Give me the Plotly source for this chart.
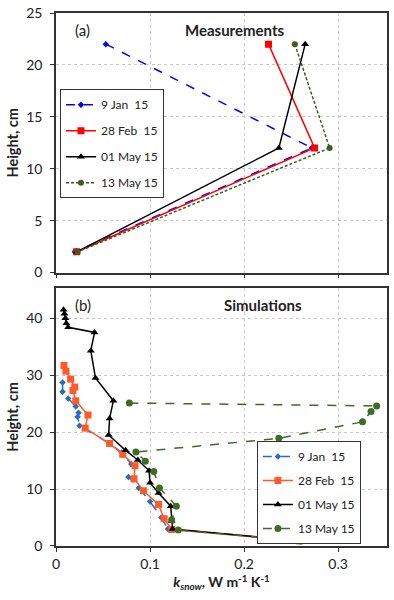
import plotly.graph_objects as go
from plotly.subplots import make_subplots

labels = ['9 Jan  15', '28 Feb  15', '01 May 15', '13 May 15']

# (a) measurements
meas_h = [22, 12, 2]
meas_jan = [0.053, 0.272, 0.020]
meas_feb = [0.226, 0.275, 0.022]
meas_may1 = [0.265, 0.237, 0.022]
meas_may13 = [0.254, 0.291, 0.023]

# (b) simulations
sim_jan_h = [28.7, 27.1, 25.9, 24.5, 23.4, 22.7, 21.1, 18.0, 16.4, 14.4, 12.1, 10.2, 7.8, 5.0, 3.0, 0.9]
sim_jan_k = [0.007, 0.007, 0.013, 0.021, 0.024, 0.023, 0.025, 0.057, 0.070, 0.080, 0.077, 0.088, 0.100, 0.112, 0.119, 0.259]

sim_feb_h = [31.7, 30.7, 29.3, 27.9, 27.3, 25.5, 23.0, 20.7, 18.0, 16.1, 14.1, 11.8, 9.7, 7.3, 4.8, 2.9, 0.9]
sim_feb_k = [0.0085, 0.0106, 0.0155, 0.020, 0.018, 0.021, 0.034, 0.031, 0.057, 0.071, 0.084, 0.083, 0.093, 0.109, 0.115, 0.123, 0.259]

sim_may1_h = [41.5, 40.8, 40.0, 39.1, 38.4, 37.5, 34.3, 29.5, 25.5, 22.4, 19.5, 16.8, 15.1, 13.2, 11.1, 9.3, 7.0, 4.4, 3.0, 0.9]
sim_may1_k = [0.008, 0.009, 0.010, 0.011, 0.013, 0.041, 0.037, 0.042, 0.061, 0.057, 0.056, 0.074, 0.087, 0.099, 0.100, 0.109, 0.122, 0.123, 0.124, 0.260]

sim_may13_h = [25.1, 24.6, 23.6, 21.8, 18.9, 16.5, 14.9, 13.1, 10.2, 7.0, 4.6, 2.8, 0.9]
sim_may13_k = [0.078, 0.341, 0.335, 0.326, 0.237, 0.085, 0.095, 0.104, 0.110, 0.128, 0.123, 0.130, 0.260]

FONT = 'Lato, Open Sans, sans-serif'

fig = make_subplots(rows=2, cols=1, vertical_spacing=0.03)

top_styles = [
    (meas_jan, '#0000ff', 'dash', 'diamond', 5),
    (meas_feb, '#ff0000', 'solid', 'square', 7),
    (meas_may1, '#000000', 'solid', 'triangle-up', 7),
    (meas_may13, '#3b5e1f', '3px,2px', 'circle', 6),
]
for i, (k, col, dash, sym, ms) in enumerate(top_styles):
    fig.add_trace(go.Scatter(
        x=k, y=meas_h, mode='lines+markers', name=labels[i],
        line=dict(color=col, width=1.5, dash=dash),
        marker=dict(color=col, symbol=sym, size=ms),
        legend='legend', legendgroup='a%d' % i
    ), row=1, col=1)

bot_data = [
    (sim_jan_k, sim_jan_h, '#2a6ebb', 'dash', 'diamond', 5),
    (sim_feb_k, sim_feb_h, '#ff5a2a', 'solid', 'square', 7),
    (sim_may1_k, sim_may1_h, '#000000', 'solid', 'triangle-up', 7),
    (sim_may13_k, sim_may13_h, '#3f6b24', 'dash', 'circle', 7),
]
for i, (k, h, col, dash, sym, ms) in enumerate(bot_data):
    fig.add_trace(go.Scatter(
        x=k, y=h, mode='lines+markers', name=labels[i],
        line=dict(color=col, width=1.5, dash=dash),
        marker=dict(color=col, symbol=sym, size=ms),
        legend='legend2', legendgroup='b%d' % i
    ), row=2, col=1)

axis_common = dict(
    range=[0, 0.352], tickvals=[0, 0.1, 0.2, 0.3], automargin=False,
    showgrid=True, gridcolor='#c8c8c8', griddash='dot', gridwidth=1,
    showline=True, linecolor='#333333', linewidth=1.5, mirror=True,
    ticks='outside', ticklen=4, tickcolor='#333333', zeroline=False,
    tickfont=dict(size=14, color='#222222', family=FONT)
)
fig.update_xaxes(**axis_common)
fig.update_xaxes(showticklabels=False, row=1, col=1)
fig.update_xaxes(
    title=dict(text='<b><i>k</i><sub><i>snow</i></sub>, W m<sup>-1</sup> K<sup>-1</sup></b>',
               font=dict(size=14, family=FONT, color='#222222'), standoff=2),
    row=2, col=1)

yaxis_common = dict(
    showgrid=True, gridcolor='#c8c8c8', griddash='dot', gridwidth=1,
    showline=True, linecolor='#333333', linewidth=1.5, mirror=True,
    ticks='outside', ticklen=4, tickcolor='#333333', zeroline=False,
    automargin=False, ticklabelstandoff=5,
    tickfont=dict(size=14, color='#222222', family=FONT),
    title=dict(text='<b>Height, cm</b>', font=dict(size=14.5, family=FONT, color='#222222'), standoff=4)
)
fig.update_yaxes(**yaxis_common)
fig.update_yaxes(range=[0, 25], dtick=5, row=1, col=1)
fig.update_yaxes(range=[0, 45.3], tickvals=[0, 10, 20, 30, 40], row=2, col=1)

fig.update_layout(
    width=394, height=600,
    margin=dict(l=56, r=7, t=13, b=54),
    plot_bgcolor='white', paper_bgcolor='white',
    font=dict(family=FONT, size=12, color='#222222'),
    legend=dict(x=0.012, y=0.857, xanchor='left', yanchor='top',
                bordercolor='#333333', borderwidth=1, bgcolor='white',
                font=dict(size=12), itemwidth=30, tracegroupgap=7,
                traceorder='grouped'),
    legend2=dict(x=0.607, y=0.197, xanchor='left', yanchor='top',
                 bordercolor='#333333', borderwidth=1, bgcolor='white',
                 font=dict(size=12), itemwidth=30, tracegroupgap=5,
                 traceorder='grouped'),
    annotations=[
        dict(text='(a)', x=0.05, y=0.968, xref='paper', yref='paper',
             xanchor='left', yanchor='middle', showarrow=False, font=dict(size=15)),
        dict(text='<b>Measurements</b>', x=0.54, y=0.968, xref='paper', yref='paper',
             xanchor='center', yanchor='middle', showarrow=False, font=dict(size=15)),
        dict(text='(b)', x=0.05, y=0.453, xref='paper', yref='paper',
             xanchor='left', yanchor='middle', showarrow=False, font=dict(size=15)),
        dict(text='<b>Simulations</b>', x=0.625, y=0.453, xref='paper', yref='paper',
             xanchor='center', yanchor='middle', showarrow=False, font=dict(size=15)),
    ]
)

fig.update_layout(yaxis=dict(domain=[0.513, 1.0]), yaxis2=dict(domain=[0.0, 0.484]))

# drop the default page margin so the figure sits at the window origin
fig.write_html("out.html", config={'displayModeBar': False},
               post_script="document.body.style.margin='0';")
